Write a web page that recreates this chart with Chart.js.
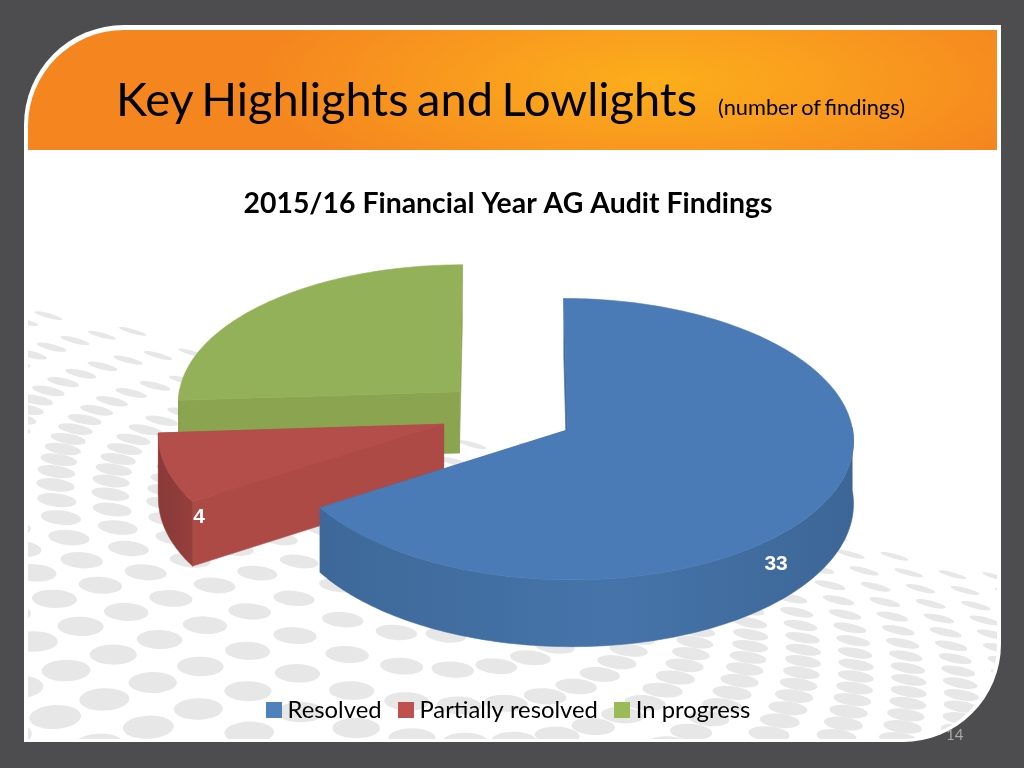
<!DOCTYPE html>
<html>
<head>
<meta charset="utf-8">
<title>Key Highlights and Lowlights</title>
<script src="https://cdn.jsdelivr.net/npm/chart.js@4"></script>
<style>
    html, body { margin: 0; padding: 0; width: 1024px; height: 768px; overflow: hidden; background: #4d4d4f; }
    #slide { position: absolute; left: 24px; top: 25px; width: 977px; height: 717px; background: #fff; border-radius: 100px 0 98px 0; }
    #header { position: absolute; left: 28px; top: 30px; width: 969px; height: 120px; border-radius: 96px 0 0 0;
        background: radial-gradient(ellipse 400px 120px at 630px 50px, #fcae1b 0%, #f99d1e 45%, #f5861f 100%); }
    #heading { position: absolute; left: 116px; top: 69px; font: 47px Lato, sans-serif; word-spacing: -3.5px; line-height: 58px; color: #000; white-space: nowrap; }
    #headingNote { position: absolute; left: 718px; top: 94px; font: 21.8px Lato, sans-serif; word-spacing: -1.5px; line-height: 26px; color: #000; white-space: nowrap; }
    #pageNo { position: absolute; left: 946px; top: 725px; font: 15px Lato, sans-serif; line-height: 18px; color: #a9a9a9; }
    #auditChart { position: absolute; left: 0; top: 0; }
</style>
</head>
<body>
<div id="slide"></div>
<div id="header"></div>
<canvas id="auditChart" width="1016" height="768"></canvas>
<div id="heading">Key Highlights and Lowlights</div>
<div id="headingNote">(number of findings)</div>
<div id="pageNo">14</div>

<script>
// CHART DATA
const categories = ["Resolved", "Partially resolved", "In progress"];
const findings = [33, 4, 13];
const shownLabels = [true, true, false];

// COLOURS
const legendColors = ["#4f81bd", "#c0504d", "#9bbb59"];
const topColors = ["#4a7bb6", "#b34e4b", "#93b159"];
const wallColors = ["#3f6b9f", "#ad4a46", "#8aa44f"];
const rimColors = [
    ["#3d6899", "#4674aa", "#3c6696"],
    ["#8a3a39", "#8f3c3a", "#96403d"],
    ["#82994a", "#84a04c", "#86a04c"]
];

// 3D PIE LOOK - how the flat pie is tilted on the page
const pieCenterY = 414;
const radiusX = 283;
const radiusY = 138;
const sideDepth = 62;
const tiltPerspective = 0.065;
const explode = 0.238;
// where each value label sits: share of the slice angle, radius, height down the side
const labelSpots = [[0.575, 1, 0.42], [0, 0.975, 0.28], [0.5, 0.7, 0]];

// projects a point of the flat pie (unit radius) onto the page
function project(cx, u, v, z) {
    const s = 1 / (1 - tiltPerspective * v);
    return { x: cx + u * radiusX * s, y: pieCenterY + v * radiusY * s + z * sideDepth * s };
}

function tracePolygon(ctx, pts) {
    ctx.beginPath();
    pts.forEach((p, i) => i ? ctx.lineTo(p.x, p.y) : ctx.moveTo(p.x, p.y));
    ctx.closePath();
}

function fillPolygon(ctx, pts, fill) {
    tracePolygon(ctx, pts);
    ctx.fillStyle = fill;
    ctx.strokeStyle = fill;
    ctx.lineWidth = 0.6;
    ctx.fill();
    ctx.stroke();
}

// PIE DRAWING - takes each slice's angles from the library's arc elements
const pie3dPlugin = {
    id: "pie3d",
    afterLayout(chart) {
        // line the legend up with the slide's legend
        chart.legend.left += 3;
        chart.legend.right += 3;
    },
    beforeDatasetsDraw(chart) {
        const ctx = chart.ctx;
        const slices = chart.getDatasetMeta(0).data.map((el, index) => {
            const mid = (el.startAngle + el.endAngle) / 2;
            return { el, index, mid, apexU: explode * Math.cos(mid), apexV: explode * Math.sin(mid) };
        });

        // back slices first
        slices.slice().sort((a, b) => a.apexV - b.apexV).forEach(slice => {
            const { el, index, apexU, apexV } = slice;
            const cx = el.x;
            const rim = [];
            const steps = Math.ceil((el.endAngle - el.startAngle) / 0.02);
            for (let i = 0; i <= steps; i++) {
                const a = el.startAngle + (el.endAngle - el.startAngle) * i / steps;
                rim.push([apexU + Math.cos(a), apexV + Math.sin(a)]);
            }
            const top = rim.map(p => project(cx, p[0], p[1], 0));
            const bottom = rim.map(p => project(cx, p[0], p[1], 1));
            const apexTop = project(cx, apexU, apexV, 0);
            const apexBottom = project(cx, apexU, apexV, 1);

            // cut walls, the one further back first
            const walls = [
                [top[0], apexTop, apexBottom, bottom[0]],
                [top[steps], apexTop, apexBottom, bottom[steps]]
            ].sort((a, b) => a[0].y - b[0].y);
            walls.forEach(w => fillPolygon(ctx, w, wallColors[index]));

            // outer side, only the part that faces the viewer
            const front = [];
            const frontBottom = [];
            rim.forEach((p, i) => {
                const a = el.startAngle + (el.endAngle - el.startAngle) * i / steps;
                if (Math.sin(a) > -0.02) {
                    front.push(top[i]);
                    frontBottom.push(bottom[i]);
                }
            });
            if (front.length > 1) {
                const xs = front.map(p => p.x);
                const grad = ctx.createLinearGradient(Math.min(...xs), 0, Math.max(...xs), 0);
                grad.addColorStop(0, rimColors[index][0]);
                grad.addColorStop(0.55, rimColors[index][1]);
                grad.addColorStop(1, rimColors[index][2]);
                fillPolygon(ctx, front.concat(frontBottom.reverse()), grad);
            }

            // top face
            fillPolygon(ctx, [apexTop].concat(top), topColors[index]);
        });

        // value labels on top of all slices
        ctx.font = "bold 21px 'Liberation Sans', Arial, sans-serif";
        ctx.fillStyle = "#fff";
        ctx.textAlign = "center";
        ctx.textBaseline = "middle";
        slices.forEach(({ el, index, apexU, apexV }) => {
            if (!shownLabels[index]) return;
            const spot = labelSpots[index];
            const a = el.startAngle + (el.endAngle - el.startAngle) * spot[0];
            const p = project(el.x, apexU + spot[1] * Math.cos(a), apexV + spot[1] * Math.sin(a), spot[2]);
            ctx.fillText(String(findings[index]), p.x, p.y);
        });
        return false;
    }
};

// BACKGROUND DOTS - decorative pattern of the slide, rings on a tilted plane
const dotsPlugin = {
    id: "slideDots",
    beforeDraw(chart) {
        const ctx = chart.ctx;
        ctx.save();
        ctx.beginPath();
        ctx.moveTo(28, 150);
        ctx.lineTo(997, 150);
        ctx.lineTo(997, 644);
        ctx.arcTo(997, 739, 902, 739, 95);
        ctx.lineTo(28, 739);
        ctx.closePath();
        ctx.clip();
        ctx.fillStyle = "#e7e7e7";

        const tilt = 16 * Math.PI / 180;
        const ca = Math.cos(tilt), sa = Math.sin(tilt);
        for (let n = 1; n < 24; n++) {
            const count = Math.round(2 * Math.PI * n / 0.7);
            for (let i = 0; i < count; i++) {
                // dots bunch up on the sides of a ring and spread at top and bottom
                const base = 2 * Math.PI * i / count;
                const t = base - 0.2 * Math.sin(2 * base);
                const q = 1 - 0.012 * n * Math.sin(t);
                if (q < 0.55) continue;
                const a = 404 + 55 * n * Math.cos(t) / q;
                const b = 139 + 27 * n * Math.sin(t) / (q * q);
                if (b < 4) continue;
                const px = 30 + a * ca - b * sa;
                const py = 295 + a * sa + b * ca;
                ctx.beginPath();
                ctx.ellipse(px, py, (28 + 0.06 * b) / 2, (4 + 0.05 * b) / 2, tilt * (1 - b / 330), 0, 2 * Math.PI);
                ctx.fill();
            }
        }
        ctx.restore();
    }
};

// legend swatches are small canvases so they sit closer to their text
function swatch(color) {
    const c = document.createElement("canvas");
    c.width = 16;
    c.height = 16;
    const g = c.getContext("2d");
    g.fillStyle = color;
    g.fillRect(0, 0, 16, 16);
    return c;
}

new Chart(document.getElementById("auditChart"), {
    type: "pie",
    data: {
        labels: categories,
        datasets: [{
            data: findings,
            backgroundColor: legendColors,
            borderWidth: 0
        }]
    },
    options: {
        responsive: false,
        animation: false,
        layout: { padding: { top: 187, bottom: 36 } },
        plugins: {
            title: {
                display: true,
                text: "2015/16 Financial Year AG Audit Findings",
                color: "#000",
                font: { family: "Lato", size: 28.4, weight: "bold" },
                padding: { top: 0, bottom: 10 }
            },
            legend: {
                position: "bottom",
                labels: {
                    color: "#000",
                    font: { family: "Lato", size: 23.8 },
                    usePointStyle: true,
                    boxWidth: 4,
                    boxHeight: 16,
                    padding: 22,
                    generateLabels: chart => categories.map((text, i) => ({
                        text,
                        index: i,
                        fillStyle: legendColors[i],
                        strokeStyle: legendColors[i],
                        lineWidth: 0,
                        pointStyle: swatch(legendColors[i])
                    }))
                }
            },
            tooltip: { enabled: false }
        }
    },
    plugins: [dotsPlugin, pie3dPlugin]
});
</script>
</body>
</html>
